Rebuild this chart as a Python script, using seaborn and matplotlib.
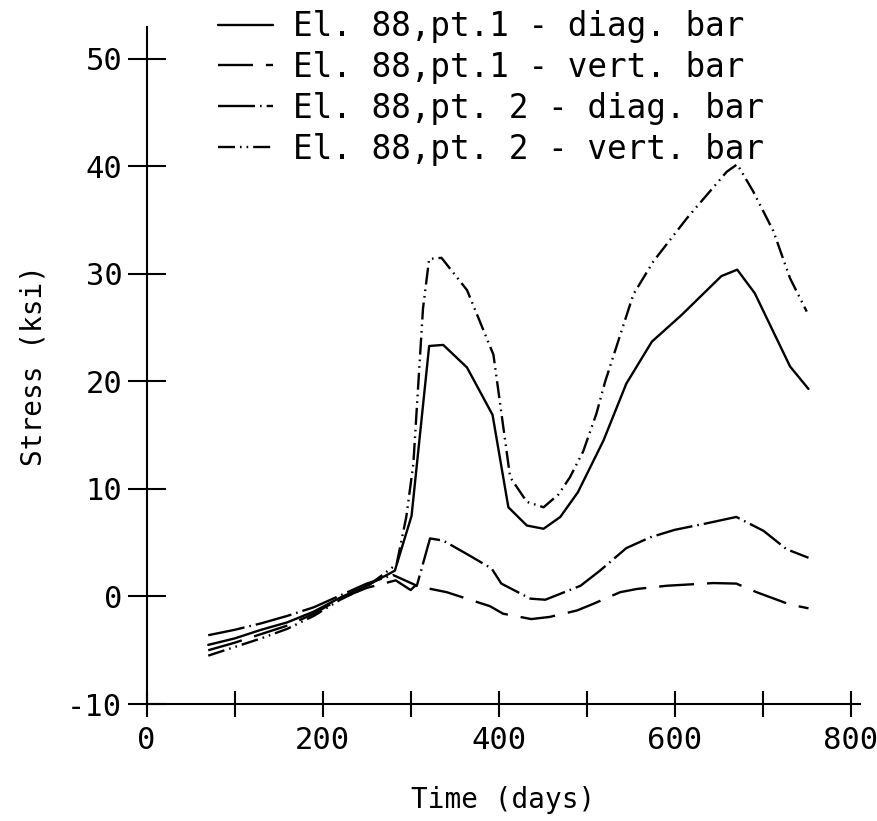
import matplotlib
matplotlib.use("Agg")
import matplotlib.pyplot as plt
import seaborn as sns

sns.set_style("white")
plt.rcParams['font.family'] = ['DejaVu Sans Mono', 'DejaVu Sans']
plt.rcParams['axes.unicode_minus'] = False
plt.rcParams['text.color'] = 'black'
plt.rcParams['axes.labelcolor'] = 'black'
plt.rcParams['xtick.color'] = 'black'
plt.rcParams['ytick.color'] = 'black'

# El. 88, pt.1 - diagonal bar (solid)
days_d1 = [70, 100, 130, 160, 190, 220, 250, 282, 301, 321, 337, 364, 393, 411,
           432, 451, 470, 490, 519, 545, 574, 608, 653, 671, 691, 731, 752]
stress_d1 = [-4.5, -3.9, -3.1, -2.4, -1.4, -0.1, 1.0, 2.4, 7.5, 23.3, 23.4, 21.3, 16.9, 8.3,
             6.6, 6.3, 7.4, 9.7, 14.5, 19.8, 23.7, 26.2, 29.8, 30.4, 28.2, 21.4, 19.3]

# El. 88, pt.1 - vertical bar (dashed)
days_v1 = [70, 100, 130, 160, 190, 220, 250, 283, 300, 305, 341, 390, 405, 437,
           458, 489, 507, 538, 557, 591, 644, 670, 693, 731, 752]
stress_v1 = [-5.0, -4.3, -3.5, -2.7, -1.6, -0.2, 0.8, 1.5, 0.6, 1.0, 0.4, -0.9, -1.6, -2.1,
             -1.9, -1.3, -0.7, 0.4, 0.7, 1.0, 1.25, 1.2, 0.4, -0.75, -1.1]

# El. 88, pt. 2 - diagonal bar (dash-dot)
days_d2 = [70, 100, 130, 160, 190, 220, 250, 280, 307, 322, 337, 367, 392, 403,
           436, 453, 493, 515, 545, 572, 600, 636, 670, 701, 727, 752]
stress_d2 = [-3.6, -3.1, -2.5, -1.8, -1.0, 0.1, 1.2, 2.0, 1.0, 5.4, 5.2, 3.8, 2.6, 1.2,
             -0.2, -0.3, 1.0, 2.4, 4.5, 5.5, 6.2, 6.8, 7.4, 6.1, 4.4, 3.6]

# El. 88, pt. 2 - vertical bar (dash-dot-dot)
days_v2 = [70, 100, 130, 160, 190, 220, 250, 284, 295, 303, 314, 321, 335, 364, 394,
           413, 432, 451, 468, 481, 496, 511, 521, 553, 576, 614, 659, 671, 689, 712,
           731, 750]
stress_v2 = [-5.5, -4.7, -3.9, -3.0, -1.8, -0.3, 0.9, 3.0, 7.4, 12.3, 26.8, 31.4, 31.5, 28.5, 22.5,
             11.1, 8.8, 8.3, 9.5, 11.1, 13.5, 17.0, 20.0, 28.1, 31.2, 35.2, 39.5, 40.2, 37.7, 34.0,
             29.6, 26.5]

labels = ['El. 88,pt.1 - diag. bar', 'El. 88,pt.1 - vert. bar',
          'El. 88,pt. 2 - diag. bar', 'El. 88,pt. 2 - vert. bar']

fig = plt.figure(figsize=(8.78, 8.21), dpi=100)
ax = fig.add_axes([0.167, 0.1425, 0.812, 0.825])

series = [
    (days_d1, stress_d1, '-'),
    (days_v1, stress_v1, (0, (14.8, 5.5))),
    (days_d2, stress_d2, (0, (15.7, 2.1, 0.7, 2.1))),
    (days_v2, stress_v2, (0, (7.2, 2.1, 0.7, 2.1, 0.7, 2.1))),
]
for (x, y, ls), lab in zip(series, labels):
    sns.lineplot(x=x, y=y, ax=ax, color='black', lw=1.7, linestyle=ls,
                 sort=False, estimator=None, label=lab)

ax.set_xlim(0, 810)
ax.set_ylim(-10, 53)
ax.set_xticks([0, 200, 400, 600, 800])
ax.set_xticks([100, 300, 500, 700], minor=True)
ax.set_yticks([-10, 0, 10, 20, 30, 40, 50])

for s in ['top', 'right']:
    ax.spines[s].set_visible(False)
for s in ['left', 'bottom']:
    ax.spines[s].set_linewidth(1.5)
    ax.spines[s].set_color('black')

ax.tick_params(axis='y', direction='inout', length=27, width=1.5, labelsize=22, pad=4, left=True)
ax.tick_params(axis='x', which='both', direction='inout', length=19, width=1.5,
               labelsize=22, pad=6, bottom=True)

ax.set_xlabel('Time (days)', fontsize=20, labelpad=23)
ax.set_ylabel('Stress (ksi)', fontsize=20, labelpad=14)

ax.legend(loc='upper left', bbox_to_anchor=(218 / 878, 1 - 10 / 821),
          bbox_transform=fig.transFigure, frameon=False, fontsize=23.5,
          handlelength=1.69, handletextpad=0.61, labelspacing=0.24,
          borderpad=0, borderaxespad=0)

fig.savefig('out.png', dpi=100)
